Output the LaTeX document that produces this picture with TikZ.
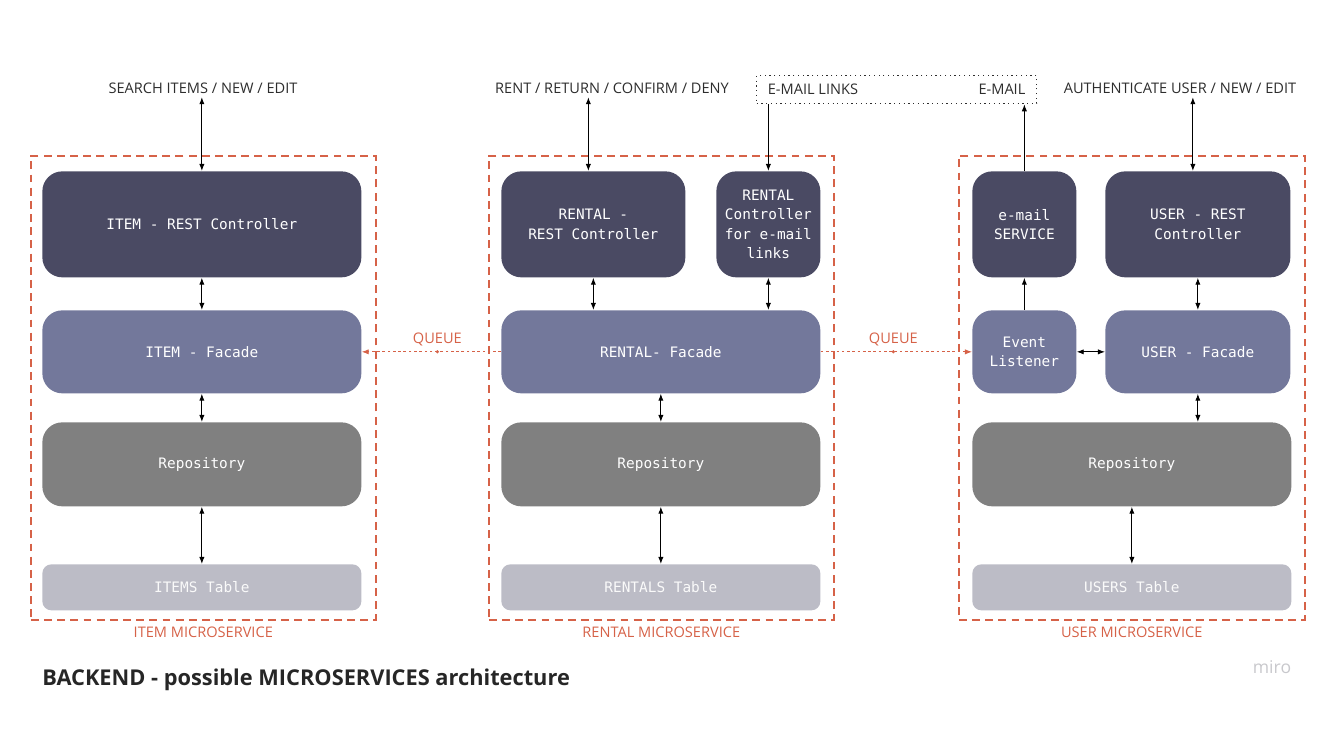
\documentclass[tikz,border=0pt]{standalone}
\usepackage{fontspec}
\setmainfont{Open Sans}
\setmonofont{DejaVu Sans Mono}
\usepackage{tikz}
\usetikzlibrary{arrows.meta}
\definecolor{mydarkslate}{RGB}{74,74,99}
\definecolor{myfacade}{RGB}{115,120,155}
\definecolor{myrepo}{RGB}{128,128,128}
\definecolor{mytable}{RGB}{188,188,198}
\definecolor{myorange}{RGB}{214,98,72}
\definecolor{mytext}{RGB}{45,45,45}
\definecolor{mylogo}{RGB}{200,200,204}
\newcommand{\pxl}{0.02cm}
\newcommand{\widthfull}{319*\pxl}
\newcommand{\widthhalf}{185*\pxl}
\newcommand{\widthsmall}{104*\pxl}
\tikzset{
    common/.style={anchor=north west, rectangle, rounded corners=20*\pxl, text=white, inner sep=0pt,
        align=center, font=\ttfamily\fontsize{8.2}{11}\selectfont},
    ctrl/.style={common, fill=mydarkslate, minimum height=106*\pxl},
    facade/.style={common, fill=myfacade, minimum height=83*\pxl},
    repo/.style={common, fill=myrepo, minimum height=84*\pxl},
    tbl/.style={common, fill=mytable, minimum height=46*\pxl, rounded corners=9*\pxl, text=white!92!mytable},
    service/.style={anchor=north west, draw=myorange, line width=0.9pt, dash pattern=on 4.5pt off 3pt,
        minimum width=345*\pxl, minimum height=464*\pxl, inner sep=0pt},
    svclabel/.style={text=myorange, font=\fontsize{8.3}{10}\selectfont},
    toplabel/.style={text=mytext, font=\fontsize{8.3}{10}\selectfont, inner sep=2pt},
    link/.style={line width=0.55pt, {Latex[length=4pt,width=3pt]}-{Latex[length=4pt,width=3pt]}},
    oneway/.style={line width=0.55pt, -{Latex[length=4pt,width=3pt]}},
    queue/.style={myorange, line width=0.5pt, dash pattern=on 1.5pt off 1.5pt, -{Latex[length=4pt,width=3pt]}},
    queuedot/.style={circle, fill=myorange, inner sep=0pt, minimum size=2pt}
}

\begin{document}
\begin{tikzpicture}[x=0.02cm, y=-0.02cm]
    \useasboundingbox (0,0) rectangle (1339,749);

    % microservice frames
    \node[service, label={[svclabel]below:ITEM MICROSERVICE}] (itemsvc) at (30,155) {};
    \node[service, label={[svclabel]below:RENTAL MICROSERVICE}] (rentalsvc) at (488,155) {};
    \node[service, minimum width=346*\pxl, label={[svclabel]below:USER MICROSERVICE}] (usersvc) at (958,155) {};

    % item
    \path
        (42,171) node[ctrl, minimum width=\widthfull] (itemrest) {ITEM - REST Controller}
        (42,310) node[facade, minimum width=\widthfull] (itemfacade) {ITEM - Facade}
        (42,422) node[repo, minimum width=\widthfull] (itemrepo) {Repository}
        (42,564) node[tbl, minimum width=\widthfull] (itemtable) {ITEMS Table};

    % rental
    \path
        (501,171) node[ctrl, minimum width=184*\pxl] (rentalrest) {RENTAL -\\REST Controller}
        (716,171) node[ctrl, minimum width=\widthsmall] (rentalmail) {RENTAL\\Controller\\for e-mail\\links}
        (501,310) node[facade, minimum width=\widthfull] (rentalfacade) {RENTAL- Facade}
        (501,422) node[repo, minimum width=\widthfull] (rentalrepo) {Repository}
        (501,564) node[tbl, minimum width=\widthfull] (rentaltable) {RENTALS Table};

    % user
    \path
        (972,171) node[ctrl, minimum width=\widthsmall] (mailservice) {e-mail\\SERVICE}
        (1105,171) node[ctrl, minimum width=\widthhalf] (userrest) {USER - REST\\Controller}
        (972,310) node[facade, minimum width=\widthsmall] (listener) {Event\\Listener}
        (1105,310) node[facade, minimum width=\widthhalf] (userfacade) {USER - Facade}
        (972,422) node[repo, minimum width=\widthfull] (userrepo) {Repository}
        (972,564) node[tbl, minimum width=\widthfull] (usertable) {USERS Table};

    % requests
    \node[toplabel] (itemreq) at (203,88) {SEARCH ITEMS / NEW / EDIT};
    \node[toplabel] (rentalreq) at (612,88) {RENT / RETURN / CONFIRM / DENY};
    \node[toplabel] (userreq) at (1180,88) {AUTHENTICATE USER / NEW / EDIT};
    \node[draw=mytext, dotted, line width=0.7pt, minimum width=280*\pxl, minimum height=28*\pxl,
        anchor=north west, inner sep=0pt] (mailbox) at (756,75) {};
    \node[toplabel, anchor=west] (maillinks) at ([xshift=8*\pxl]mailbox.west) {E-MAIL LINKS};
    \node[toplabel, anchor=east] (mailout) at ([xshift=-8*\pxl]mailbox.east) {E-MAIL};

    \draw[link] (itemreq.south -| itemrest.north) -- (itemrest.north);
    \draw[link] ([xshift=-5*\pxl]rentalreq.south -| rentalrest.north) -- ([xshift=-5*\pxl]rentalrest.north);
    \draw[link] ([xshift=-5*\pxl]userreq.south -| userrest.north) -- ([xshift=-5*\pxl]userrest.north);
    \draw[oneway] (mailbox.south -| rentalmail.north) -- (rentalmail.north);
    \draw[oneway] (mailservice.north) -- (mailbox.south -| mailservice.north);

    % inside
    \draw[link] (itemrest) -- (itemfacade);
    \draw[link] (itemfacade) -- (itemrepo);
    \draw[link] (itemrepo) -- (itemtable);
    \draw[link] (rentalrest) -- (rentalrest |- rentalfacade.north);
    \draw[link] (rentalmail) -- (rentalmail |- rentalfacade.north);
    \draw[link] (rentalfacade) -- (rentalrepo);
    \draw[link] (rentalrepo) -- (rentaltable);
    \draw[oneway] (listener) -- (mailservice);
    \draw[link] (userrest) -- (userfacade);
    \draw[link] (listener) -- (userfacade);
    \draw[link] (userfacade.south) -- (userfacade.south |- userrepo.north);
    \draw[link] (userrepo) -- (usertable);

    % queues
    \draw[queue] (rentalfacade.west) -- node[queuedot, xshift=6*\pxl]{} node[svclabel, above=0pt, xshift=6*\pxl]{QUEUE} (itemfacade.east);
    \draw[queue] (rentalfacade.east) -- node[queuedot, xshift=-3*\pxl]{} node[svclabel, above=0pt, xshift=-3*\pxl]{QUEUE} (listener.west);

    \node[anchor=west, inner sep=0pt, text=black!85, font=\bfseries\fontsize{12.4}{14}\selectfont] (title) at (42,680)
        {BACKEND - possible MICROSERVICES architecture};
    \node[text=mylogo, font=\fontsize{10}{12}\selectfont] (logo) at (1272,667) {miro};
\end{tikzpicture}
\end{document}
